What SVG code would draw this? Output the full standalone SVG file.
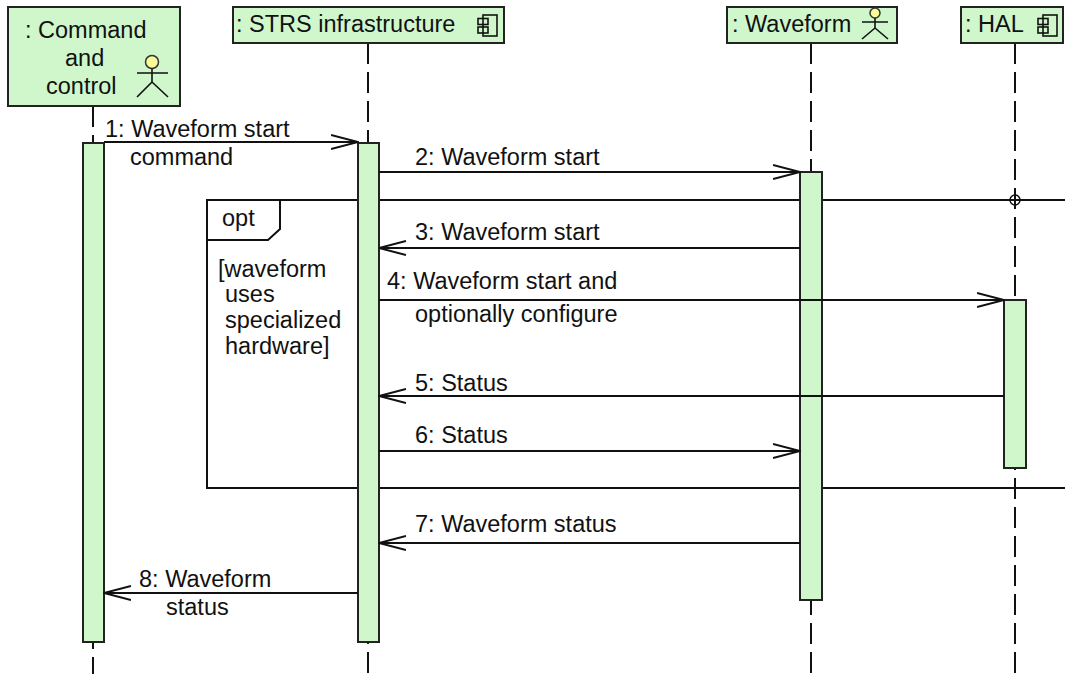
<svg xmlns="http://www.w3.org/2000/svg" width="1065" height="674" viewBox="0 0 1065 674">
<defs>
<style>
text{font-family:"Liberation Sans",Arial,sans-serif;font-size:23.5px;fill:#111}
.box{fill:#d0f7cc;stroke:#222;stroke-width:2}
.life{stroke:#111;stroke-width:2;stroke-dasharray:21 8;fill:none}
.act{fill:#d0f7cc;stroke:#222;stroke-width:2}
.msg{stroke:#111;stroke-width:2;fill:none;marker-end:url(#open)}
.frame{fill:none;stroke:#111;stroke-width:2}
.icon{fill:none;stroke:#111;stroke-width:1.6}
.head{fill:#fafa96;stroke:#333;stroke-width:1.5}
</style>
<marker id="open" viewBox="0 0 28 16" refX="27" refY="8" markerWidth="28" markerHeight="16" markerUnits="userSpaceOnUse" orient="auto">
<path d="M0,1 L27,8 L0,15" fill="none" stroke="#111" stroke-width="2"/>
</marker>
</defs>
<rect width="1065" height="674" fill="#fff"/>

<g id="lifelines">
<line class="life" x1="93" y1="106" x2="93" y2="674"/>
<line class="life" x1="368" y1="43" x2="368" y2="674"/>
<line class="life" x1="811" y1="43" x2="811" y2="674"/>
<line class="life" x1="1015" y1="43" x2="1015" y2="674"/>
</g>

<g id="opt-frame">
<rect class="frame" x="207" y="200" width="870" height="288"/>
<path class="frame" d="M207,240 L268,240 L280,229 L280,200"/>
<text x="222" y="226">opt</text>
<text x="218" y="277">[waveform</text>
<text x="225" y="302">uses</text>
<text x="225" y="328">specialized</text>
<text x="225" y="354">hardware]</text>
<circle cx="1015" cy="200" r="5" fill="none" stroke="#111" stroke-width="1.5"/>
</g>

<g id="command-and-control">
<rect class="box" x="8" y="7" width="172" height="99"/>
<text x="25" y="38">: Command</text>
<text x="65" y="66">and</text>
<text x="46" y="94">control</text>
<circle class="head" cx="152" cy="62" r="6.5"/>
<path class="icon" d="M152,68.5 V82 M137,73 H168 M152,82 L137,97 M152,82 L168,97"/>
<rect class="act" x="83" y="143" width="21" height="499"/>
</g>

<g id="strs-infrastructure">
<rect class="box" x="233" y="7" width="271" height="36"/>
<text x="236" y="32">: STRS infrastructure</text>
<rect class="icon" x="483" y="15" width="14" height="21"/>
<rect class="icon" x="478" y="18.5" width="10" height="6" fill="#d0f7cc"/>
<rect class="icon" x="478" y="27" width="10" height="6" fill="#d0f7cc"/>
<rect class="act" x="358" y="143" width="21" height="499"/>
</g>

<g id="waveform">
<rect class="box" x="727" y="7" width="170" height="36"/>
<text x="732" y="32">: Waveform</text>
<circle class="head" cx="875" cy="13" r="5"/>
<path class="icon" d="M875,18 V28 M862,22 H888 M875,28 L862,39 M875,28 L888,39"/>
<rect class="act" x="800" y="172" width="22" height="428"/>
</g>

<g id="hal">
<rect class="box" x="961" y="7" width="102" height="36"/>
<text x="965" y="32">: HAL</text>
<rect class="icon" x="1043" y="15" width="14" height="21"/>
<rect class="icon" x="1038" y="18.5" width="10" height="6" fill="#d0f7cc"/>
<rect class="icon" x="1038" y="27" width="10" height="6" fill="#d0f7cc"/>
<rect class="act" x="1004" y="300" width="22" height="168"/>
</g>

<g id="connectors">
<line class="msg" x1="104" y1="142" x2="358" y2="142"/>
<text x="105" y="137">1: Waveform start</text>
<text x="130" y="165">command</text>

<line class="msg" x1="379" y1="172" x2="800" y2="172"/>
<text x="415" y="165">2: Waveform start</text>

<line class="msg" x1="800" y1="248" x2="379" y2="248"/>
<text x="415" y="240">3: Waveform start</text>

<line class="msg" x1="379" y1="300" x2="1004" y2="300"/>
<text x="387" y="289">4: Waveform start and</text>
<text x="415" y="322">optionally configure</text>

<line class="msg" x1="1004" y1="396" x2="379" y2="396"/>
<text x="415" y="391">5: Status</text>

<line class="msg" x1="379" y1="451" x2="800" y2="451"/>
<text x="415" y="443">6: Status</text>

<line class="msg" x1="800" y1="543" x2="379" y2="543"/>
<text x="415" y="532">7: Waveform status</text>

<line class="msg" x1="358" y1="593" x2="104" y2="593"/>
<text x="139" y="587">8: Waveform</text>
<text x="166" y="615">status</text>
</g>
</svg>
